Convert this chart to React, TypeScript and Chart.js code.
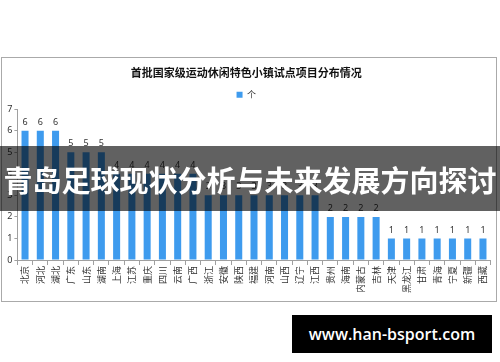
import React, { useEffect, useRef } from "react";
import { Chart, registerables } from "chart.js";

Chart.register(...registerables);

const chartTitle = "首批国家级运动休闲特色小镇试点项目分布情况";
const seriesName = "个";
const provinces = [
  "北京", "河北", "湖北", "广东", "山东", "湖南", "上海", "江苏", "重庆", "四川",
  "云南", "广西", "浙江", "安徽", "陕西", "福建", "河南", "山西", "辽宁", "江西",
  "贵州", "海南", "内蒙古", "吉林", "天津", "黑龙江", "甘肃", "青海", "宁夏", "新疆", "西藏",
];
const counts = [
  6, 6, 6, 5, 5, 5, 4, 4, 4, 4,
  4, 4, 3, 3, 3, 3, 3, 3, 3, 3,
  2, 2, 2, 2, 1, 1, 1, 1, 1, 1, 1,
];
const yMin = 0;
const yMax = 7;
const yStep = 1;
const bannerText = "青岛足球现状分析与未来发展方向探讨";
const siteText = "www.han-bsport.com";

const BAR_COLOR = "#3e9bee";
const TEXT_COLOR = "#333333";
const AXIS_COLOR = "#a0a0a0";

const valueLabels = {
  id: "valueLabels",
  afterDatasetsDraw(chart: any) {
    const ctx = chart.ctx;
    const meta = chart.getDatasetMeta(0);
    ctx.save();
    ctx.font = '9px "Noto Sans", sans-serif';
    ctx.fillStyle = TEXT_COLOR;
    ctx.textAlign = "center";
    ctx.textBaseline = "bottom";
    meta.data.forEach((el: any, i: number) => {
      ctx.fillText(String(counts[i]), el.x, el.y - 4);
    });
    ctx.restore();
  },
};

function BarChart() {
  const ref = useRef<HTMLCanvasElement | null>(null);
  useEffect(() => {
    if (!ref.current) return;
    const chart = new Chart(ref.current, {
      type: "bar",
      data: {
        labels: provinces,
        datasets: [
          {
            label: seriesName,
            data: counts,
            backgroundColor: BAR_COLOR,
            borderWidth: 0,
            barPercentage: 0.46,
            categoryPercentage: 1,
          },
        ],
      },
      options: {
        animation: false,
        responsive: false,
        maintainAspectRatio: false,
        layout: { padding: { left: 0, right: 5.4, top: 0, bottom: 0 } },
        plugins: {
          tooltip: { enabled: false },
          title: {
            display: true,
            text: chartTitle,
            color: "#111",
            font: { family: '"Noto Sans CJK SC", sans-serif', size: 11, weight: "bold" },
            padding: { top: 8, bottom: 6 },
          },
          legend: {
            display: true,
            labels: {
              boxWidth: 6,
              boxHeight: 6,
              padding: 5,
              color: TEXT_COLOR,
              font: { family: '"Noto Sans CJK SC", sans-serif', size: 9 },
            },
          },
        },
        scales: {
          x: {
            offset: true,
            grid: {
              offset: true,
              drawOnChartArea: false,
              drawTicks: true,
              tickLength: 5,
              color: AXIS_COLOR,
            },
            border: { display: true, color: AXIS_COLOR },
            ticks: {
              autoSkip: false,
              minRotation: 90,
              maxRotation: 90,
              padding: 1,
              color: TEXT_COLOR,
              font: { family: '"Noto Sans CJK SC", sans-serif', size: 9 },
            },
            afterFit(scale: any) {
              scale.height = 41;
            },
          },
          y: {
            min: yMin,
            max: yMax,
            grid: {
              drawOnChartArea: false,
              drawTicks: true,
              tickLength: 3,
              color: AXIS_COLOR,
            },
            border: { display: true, color: AXIS_COLOR },
            ticks: {
              stepSize: yStep,
              padding: 2,
              color: TEXT_COLOR,
              font: { family: '"Noto Sans", sans-serif', size: 9 },
            },
            afterFit(scale: any) {
              scale.width = 15.4;
            },
          },
        },
      },
      plugins: [valueLabels],
    });
    return () => chart.destroy();
  }, []);
  return <canvas ref={ref} width={494} height={243} style={{ display: "block", width: 494, height: 243 }} />;
}

export default function App() {
  return (
    <div
      style={{
        position: "fixed",
        left: 0,
        top: 0,
        width: 500,
        height: 362,
        background: "#fff",
        overflow: "hidden",
      }}
    >
      <div
        style={{
          position: "absolute",
          left: 1,
          top: 57,
          width: 496,
          height: 245,
          border: "1px solid #aaaaaa",
          boxSizing: "border-box",
        }}
      >
        <BarChart />
      </div>
      <div
        style={{
          position: "absolute",
          left: 0,
          top: 146,
          width: 500,
          height: 65,
          background: "rgba(0,0,0,0.62)",
          color: "#fff",
          display: "flex",
          alignItems: "center",
          justifyContent: "center",
          fontFamily: '"Noto Sans CJK SC", sans-serif',
          fontWeight: 700,
          fontSize: 29,
          whiteSpace: "nowrap",
          letterSpacing: 0,
        }}
      >
        {bannerText}
      </div>
      <div
        style={{
          position: "absolute",
          left: 292,
          top: 315,
          width: 200,
          height: 38,
          background: "#000",
          color: "#fff",
          display: "flex",
          alignItems: "center",
          justifyContent: "center",
          fontFamily: '"Open Sans", sans-serif',
          fontWeight: 600,
          fontSize: 16,
        }}
      >
        {siteText}
      </div>
    </div>
  );
}
